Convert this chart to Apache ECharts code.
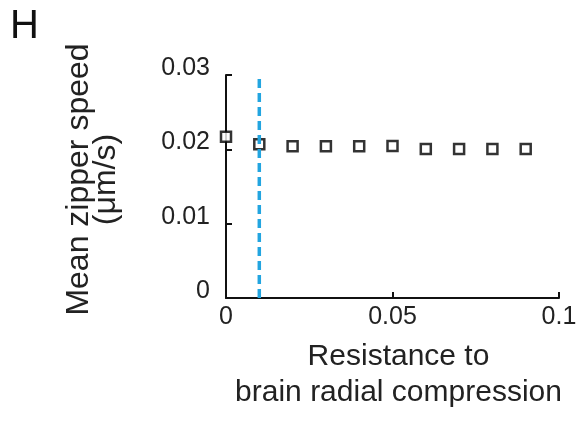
<!DOCTYPE html>
<html>
<head>
<meta charset="utf-8">
<script src="https://cdn.jsdelivr.net/npm/echarts@6/dist/echarts.min.js"></script>
<style>html,body{margin:0;padding:0;background:#fff;}#c{width:582px;height:425px;}</style>
</head>
<body>
<div id="c"></div>
<script>
var resistance = [0, 0.01, 0.02, 0.03, 0.04, 0.05, 0.06, 0.07, 0.08, 0.09];
var speed = [0.0217, 0.0207, 0.0204, 0.0204, 0.0204, 0.02045, 0.02005, 0.02005, 0.02005, 0.02005];
var thresholdX = 0.01;
var thresholdY = [0, 0.03];

var font = '"Liberation Sans", Arial, Helvetica, sans-serif';
var chart = echarts.init(document.getElementById('c'));
chart.setOption({
  animation: false,
  backgroundColor: '#fff',
  grid: {left: 226, right: 23, top: 75, bottom: 127},
  graphic: [{
    type: 'text', left: 10, top: 7,
    style: {text: 'H', fontSize: 40, fontFamily: font, fill: '#111'}
  }],
  xAxis: {
    type: 'value', min: 0, max: 0.1, interval: 0.05,
    name: 'Resistance to\nbrain radial compression',
    nameLocation: 'middle', nameGap: 40,
    nameTextStyle: {fontSize: 30, fontFamily: font, color: '#222', lineHeight: 36, verticalAlign: 'top', padding: [1, 0, 0, 12]},
    axisLine: {lineStyle: {color: '#111', width: 2}},
    axisTick: {inside: true, length: 6, lineStyle: {color: '#111', width: 2}},
    axisLabel: {fontSize: 25, fontFamily: font, color: '#222', margin: 7,
      formatter: function (v) { return String(+v.toFixed(2)); }},
    splitLine: {show: false}
  },
  yAxis: {
    type: 'value', min: 0, max: 0.03, interval: 0.01,
    name: 'Mean zipper speed\n(\u03bcm/s)',
    nameLocation: 'middle', nameGap: 106, nameRotate: 90,
    nameTextStyle: {fontSize: 32, fontFamily: font, color: '#222', lineHeight: 27, padding: [0, 0, 0, 14]},
    axisLine: {lineStyle: {color: '#111', width: 2}},
    axisTick: {inside: true, length: 6, lineStyle: {color: '#111', width: 2}},
    axisLabel: {fontSize: 25, fontFamily: font, color: '#222', margin: 16,
      verticalAlign: 'bottom', lineHeight: 14,
      formatter: function (v) { return String(+v.toFixed(2)); }},
    splitLine: {show: false}
  },
  series: [{
    type: 'scatter',
    data: resistance.map(function (x, i) { return [x, speed[i]]; }),
    symbol: 'rect', symbolSize: 10,
    itemStyle: {color: '#fff', borderColor: '#000', borderWidth: 2.5},
    z: 3
  }, {
    type: 'line',
    data: thresholdY.map(function (y) { return [thresholdX, y]; }),
    symbol: 'none',
    lineStyle: {color: '#22a5e0', width: 3.5, type: [9, 5]},
    z: 4
  }]
});
</script>
</body>
</html>
